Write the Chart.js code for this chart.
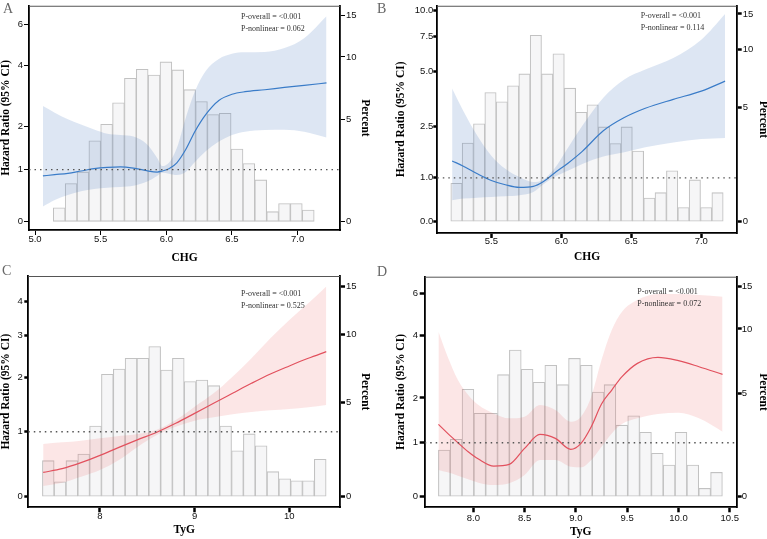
<!DOCTYPE html>
<html>
<head>
<meta charset="utf-8">
<script src="https://cdn.jsdelivr.net/npm/chart.js@4.4.1/dist/chart.umd.min.js"></script>
<style>
  html, body { margin: 0; padding: 0; background: #fff; }
  body { width: 767px; height: 539px; position: relative; overflow: hidden; }
  canvas { position: absolute; }
</style>
</head>
<body>
<canvas id="panel-a" width="376" height="268" style="left:0;top:0"></canvas>
<canvas id="panel-b" width="391" height="268" style="left:376px;top:0"></canvas>
<canvas id="panel-c" width="376" height="281" style="left:0;top:258px"></canvas>
<canvas id="panel-d" width="391" height="281" style="left:376px;top:258px"></canvas>
<script>
// ---- Panel A: CHG (first model) ----
const binsA = [5.184, 5.275, 5.365, 5.455, 5.545, 5.636, 5.726, 5.816, 5.907, 5.997, 6.087,
               6.178, 6.268, 6.358, 6.448, 6.539, 6.629, 6.719, 6.810, 6.900, 6.990, 7.081];
const pctA = [0.60, 1.66, 2.19, 3.76, 4.71, 6.12, 8.02, 8.81, 8.30, 9.51, 8.75,
              7.09, 6.21, 5.32, 5.40, 3.32, 2.59, 1.82, 0.43, 0.78, 0.78, 0.50];
const xA = [5.06, 5.15, 5.25, 5.35, 5.45, 5.55, 5.65, 5.75, 5.85, 5.93, 5.97, 6.02,
            6.08, 6.15, 6.22, 6.30, 6.40, 6.50, 6.60, 6.75, 6.90, 7.05, 7.22];
const hrA = [0.871, 0.897, 0.924, 0.971, 1.018, 1.045, 1.058, 1.031, 0.977, 0.950, 0.971, 1.018,
             1.141, 1.443, 1.875, 2.311, 2.729, 2.928, 3.014, 3.080, 3.158, 3.227, 3.319];
const upperA = [2.559, 2.367, 2.184, 2.044, 1.916, 1.809, 1.777, 1.736, 1.557, 1.247, 1.072, 1.141,
                1.466, 2.248, 3.047, 3.761, 4.261, 4.494, 4.554, 4.569, 4.752, 5.239, 6.489];
const lowerA = [0.285, 0.407, 0.500, 0.569, 0.613, 0.638, 0.651, 0.676, 0.754, 0.871, 0.937, 0.917,
                0.891, 0.957, 1.162, 1.391, 1.618, 1.777, 1.858, 1.899, 1.908, 1.858, 1.712];
const xTicksA = [5.0, 5.5, 6.0, 6.5, 7.0];
const hrTicksA = [0, 1, 2, 4, 6];
const notesA = ['P-overall = <0.001', 'P-nonlinear = 0.062'];

// ---- Panel B: CHG (second model) ----
const binsB = [5.251, 5.332, 5.413, 5.494, 5.575, 5.656, 5.737, 5.818, 5.899, 5.981, 6.062, 6.143,
               6.224, 6.305, 6.386, 6.467, 6.548, 6.629, 6.710, 6.792, 6.873, 6.954, 7.035, 7.116];
const pctB = [1.35, 3.03, 4.02, 6.04, 5.38, 6.55, 7.56, 11.81, 7.56, 9.56, 6.37, 4.70,
              5.18, 3.85, 3.01, 3.85, 2.66, 0.82, 1.01, 1.83, 0.49, 1.48, 0.49, 1.01];
const xB = [5.22, 5.30, 5.40, 5.50, 5.60, 5.70, 5.80, 5.87, 5.95, 6.05, 6.15, 6.30, 6.45, 6.60, 6.80, 7.00, 7.17];
const hrB = [1.434, 1.294, 1.100, 0.937, 0.834, 0.772, 0.795, 0.905, 1.116, 1.381, 1.701, 2.339, 2.811, 3.177, 3.560, 3.945, 4.450];
const upperB = [4.074, 3.069, 2.175, 1.579, 1.225, 1.018, 0.897, 0.953, 1.225, 1.817, 2.510, 3.634, 4.539, 5.106, 5.844, 7.200, 9.630];
const lowerB = [0.475, 0.513, 0.535, 0.550, 0.565, 0.588, 0.664, 0.842, 1.018, 1.183, 1.355, 1.552, 1.673, 1.817, 1.967, 2.070, 2.101];
const xTicksB = [5.5, 6.0, 6.5, 7.0];
const hrTicksB = [0, 1, 2.5, 5, 7.5, 10];
const notesB = ['P-overall = <0.001', 'P-nonlinear = 0.114'];

// ---- Panel C: TyG (first model) ----
const binsC = [7.454, 7.578, 7.703, 7.828, 7.953, 8.078, 8.203, 8.328, 8.453, 8.578, 8.703, 8.827,
               8.952, 9.077, 9.202, 9.327, 9.452, 9.577, 9.702, 9.827, 9.952, 10.076, 10.201, 10.326];
const pctC = [1.78, 0.73, 1.78, 2.12, 3.61, 6.83, 7.21, 8.01, 8.01, 8.94, 7.14, 8.01,
              6.33, 6.44, 6.06, 3.61, 2.29, 3.18, 2.55, 1.23, 0.88, 0.78, 0.78, 1.85];
const xC = [7.4, 7.6, 7.8, 8.0, 8.2, 8.4, 8.6, 8.8, 9.0, 9.2, 9.4, 9.6, 9.8, 10.0, 10.2, 10.39];
const hrC = [0.362, 0.418, 0.509, 0.622, 0.747, 0.870, 0.992, 1.141, 1.314, 1.496, 1.685, 1.883, 2.078, 2.253, 2.427, 2.586];
const upperC = [0.800, 0.827, 0.854, 0.891, 0.929, 0.962, 1.034, 1.198, 1.434, 1.685, 2.021, 2.427, 2.922, 3.431, 3.949, 4.527];
const lowerC = [0.158, 0.208, 0.297, 0.398, 0.550, 0.758, 0.946, 1.084, 1.186, 1.244, 1.297, 1.338, 1.368, 1.392, 1.422, 1.465];
const xTicksC = [8, 9, 10];
const hrTicksC = [0, 1, 2, 3, 4];
const notesC = ['P-overall = <0.001', 'P-nonlinear = 0.525'];

// ---- Panel D: TyG (second model) ----
const binsD = [7.717, 7.832, 7.948, 8.063, 8.178, 8.294, 8.409, 8.525, 8.640, 8.755, 8.871, 8.986,
               9.102, 9.217, 9.332, 9.448, 9.563, 9.679, 9.794, 9.909, 10.025, 10.140, 10.256, 10.371];
const pctD = [2.02, 2.52, 5.24, 3.84, 3.84, 6.21, 8.09, 6.59, 5.69, 6.88, 5.54, 7.41,
              6.88, 5.07, 5.54, 3.22, 3.71, 2.86, 1.87, 1.35, 2.86, 1.35, 0.35, 1.03];
const xD = [7.66, 7.75, 7.85, 7.95, 8.05, 8.2, 8.35, 8.5, 8.65, 8.8, 8.95, 9.05, 9.15, 9.25, 9.35, 9.45, 9.6, 9.8, 10.0, 10.2, 10.43];
const hrD = [1.383, 1.192, 1.002, 0.825, 0.685, 0.554, 0.585, 0.890, 1.171, 1.089, 0.871, 0.989,
             1.333, 1.850, 2.206, 2.577, 2.985, 3.181, 3.071, 2.879, 2.646];
const upperD = [4.134, 3.204, 2.481, 2.075, 1.826, 1.629, 1.516, 1.553, 1.826, 1.707, 1.441, 1.553,
                2.033, 3.093, 4.203, 5.025, 5.617, 5.944, 5.944, 5.888, 5.796];
const lowerD = [0.481, 0.438, 0.377, 0.311, 0.251, 0.209, 0.239, 0.389, 0.667, 0.667, 0.542, 0.530,
                0.667, 0.923, 1.192, 1.391, 1.516, 1.614, 1.645, 1.516, 1.227];
const xTicksD = [8.0, 8.5, 9.0, 9.5, 10.0, 10.5];
const hrTicksD = [0, 1, 2, 4, 6];
const notesD = ['P-overall = <0.001', 'P-nonlinear = 0.072'];

const pctTicks = [0, 5, 10, 15];

// Hazard ratio axes use a pseudo-log (asinh) scale, linear near zero
class AsinhScale extends Chart.LinearScale {
  configure() {
    super.configure();
    const c = this.options.linearWidth || 2;
    this._t0 = Math.asinh(this.min / c);
    this._t1 = Math.asinh(this.max / c);
  }
  getPixelForValue(value) {
    if (value === null || value === undefined) return NaN;
    const c = this.options.linearWidth || 2;
    return this.getPixelForDecimal((Math.asinh(value / c) - this._t0) / (this._t1 - this._t0));
  }
  getValueForPixel(pixel) {
    const c = this.options.linearWidth || 2;
    return c * Math.sinh(this._t0 + this.getDecimalForPixel(pixel) * (this._t1 - this._t0));
  }
}
AsinhScale.id = 'asinh';
AsinhScale.defaults = {};
Chart.register(AsinhScale);

const BLUE = { line: '#3a7cc8', band: 'rgba(65,115,190,0.18)' };
const RED = { line: '#e2515e', band: 'rgba(235,80,80,0.14)' };

const titleFont = { family: 'Liberation Serif', weight: 'bold', size: 11.5, lineHeight: 1 };
const tickFont = { family: 'Liberation Sans', size: 9.5, lineHeight: 1 };

function pts(xs, ys) {
  return xs.map((x, i) => ({ x: x, y: ys[i] }));
}

function drawPanel(canvasId, d, lay) {
  const k = d.pctPerHr;
  const ticks = (vals) => (s) => { s.ticks = vals.map(v => ({ value: v })); };
  const grid = (len) => ({
    display: true, drawOnChartArea: false, drawTicks: true,
    tickLength: len, tickWidth: lay.tickWidth, tickColor: '#000'
  });
  const border = { display: true, color: '#000', width: 1.8 };

  // frame top edge, p-value notes and panel letter
  const labels = {
    id: 'labels',
    afterDraw(chart) {
      const ctx = chart.ctx;
      const a = chart.chartArea;
      ctx.save();
      ctx.strokeStyle = '#555';
      ctx.lineWidth = 1;
      ctx.beginPath();
      ctx.moveTo(a.left, a.top + 0.5);
      ctx.lineTo(a.right, a.top + 0.5);
      ctx.stroke();
      ctx.fillStyle = '#333';
      ctx.font = '8px "Liberation Serif"';
      ctx.textAlign = 'left';
      ctx.textBaseline = 'middle';
      ctx.fillText(d.notes[0], lay.note[0], lay.note[1]);
      ctx.fillText(d.notes[1], lay.note[0], lay.note[2]);
      ctx.fillStyle = '#666';
      ctx.font = '14px "Liberation Serif"';
      ctx.textBaseline = 'top';
      ctx.fillText(d.letter, lay.letter[0], lay.letter[1]);
      ctx.restore();
    }
  };

  new Chart(document.getElementById(canvasId), {
    type: 'line',
    data: {
      datasets: [
        {
          type: 'bar', yAxisID: 'y1', data: pts(d.bins, d.pct),
          backgroundColor: '#f6f6f7', borderColor: '#c2c2c2', borderWidth: 1.1,
          borderSkipped: false, barThickness: 'flex', barPercentage: 1,
          categoryPercentage: 1, order: 5
        },
        {
          yAxisID: 'y', data: pts(d.xs, d.upper), borderWidth: 0, pointRadius: 0,
          fill: '+1', backgroundColor: d.colors.band, cubicInterpolationMode: 'monotone', order: 4
        },
        {
          yAxisID: 'y', data: pts(d.xs, d.lower), borderWidth: 0, pointRadius: 0,
          fill: false, cubicInterpolationMode: 'monotone', order: 3
        },
        {
          yAxisID: 'y', data: pts(d.xs, d.hr), borderColor: d.colors.line, borderWidth: 1.2,
          pointRadius: 0, fill: false, cubicInterpolationMode: 'monotone', order: 2
        },
        {
          yAxisID: 'y', data: pts(d.xRange, [1, 1]), borderColor: '#555', borderWidth: 1.4,
          borderDash: [1.5, 4], pointRadius: 0, fill: false, order: 1
        }
      ]
    },
    options: {
      responsive: false,
      animation: false,
      devicePixelRatio: 1,
      layout: { padding: { top: lay.top, left: 0, right: 0, bottom: 0 } },
      plugins: { legend: { display: false }, tooltip: { enabled: false } },
      scales: {
        x: {
          type: 'linear', min: d.xRange[0], max: d.xRange[1], offset: false,
          afterBuildTicks: ticks(d.xTicks),
          afterFit: (s) => { s.height = lay.bottom; },
          ticks: {
            autoSkip: false, maxRotation: 0, font: tickFont, color: '#111', padding: lay.xLabelPad,
            callback: (v) => v.toFixed(d.xDigits)
          },
          grid: Object.assign(grid(5), { offset: false }),
          border: border,
          title: { display: true, text: d.xTitle, font: titleFont, color: '#000',
                   padding: { top: 0, bottom: lay.xTitlePad } }
        },
        y: {
          type: 'asinh', position: 'left', linearWidth: 2,
          min: d.hrRange[0], max: d.hrRange[1],
          afterBuildTicks: ticks(d.hrTicks),
          afterFit: (s) => { s.width = lay.left; },
          ticks: {
            autoSkip: false, font: tickFont, color: '#111', padding: lay.yLabelPad,
            callback: (v) => v.toFixed(d.hrDigits)
          },
          grid: grid(lay.yTickLen),
          border: border,
          title: { display: true, text: 'Hazard Ratio (95% CI)', font: titleFont, color: '#000',
                   padding: { top: lay.yTitlePad, bottom: 0 } }
        },
        y1: {
          type: 'asinh', position: 'right', linearWidth: 2 * k,
          min: d.hrRange[0] * k, max: d.hrRange[1] * k,
          afterBuildTicks: ticks(pctTicks),
          afterFit: (s) => { s.width = lay.right; },
          ticks: {
            autoSkip: false, font: tickFont, color: '#111', padding: lay.rLabelPad,
            callback: (v) => String(v)
          },
          grid: grid(5),
          border: border,
          title: { display: true, text: 'Percent', font: titleFont, color: '#000',
                   padding: { top: lay.rTitlePad, bottom: 0 } }
        }
      }
    },
    plugins: [labels]
  });
}

drawPanel('panel-a', {
  letter: 'A', xTitle: 'CHG', colors: BLUE, notes: notesA,
  bins: binsA, pct: pctA, xs: xA, hr: hrA, upper: upperA, lower: lowerA,
  xRange: [4.954, 7.323], xTicks: xTicksA, xDigits: 1,
  hrRange: [-0.1505, 7.18], hrTicks: hrTicksA, hrDigits: 0, pctPerHr: 2.3
}, { top: 2, left: 29, right: 36, bottom: 38, tickWidth: 1, yTickLen: 5, yLabelPad: 1, rLabelPad: 1,
     xLabelPad: 0, yTitlePad: 0, rTitlePad: 5.25, xTitlePad: 3.95, note: [241, 17.3, 29.3], letter: [3, 2] });

drawPanel('panel-b', {
  letter: 'B', xTitle: 'CHG', colors: BLUE, notes: notesB,
  bins: binsB, pct: pctB, xs: xB, hr: hrB, upper: upperB, lower: lowerB,
  xRange: [5.114, 7.253], xTicks: xTicksB, xDigits: 1,
  hrRange: [-0.2462, 10.56], hrTicks: hrTicksB, hrDigits: 1, pctPerHr: 1.557
}, { top: 4, left: 61.3, right: 30.3, bottom: 35, tickWidth: 2.5, yTickLen: 4, yLabelPad: 0, rLabelPad: 1,
     xLabelPad: -1.3, yTitlePad: 19.75, rTitlePad: -2, xTitlePad: 5.55, note: [264.7, 16, 28.3], letter: [1, 2] });

drawPanel('panel-c', {
  letter: 'C', xTitle: 'TyG', colors: RED, notes: notesC,
  bins: binsC, pct: pctC, xs: xC, hr: hrC, upper: upperC, lower: lowerC,
  xRange: [7.243, 10.535], xTicks: xTicksC, xDigits: 0,
  hrRange: [-0.1572, 4.929], hrTicks: hrTicksC, hrDigits: 0, pctPerHr: 3.3
}, { top: 18, left: 28.3, right: 36, bottom: 31.7, tickWidth: 2.5, yTickLen: 4, yLabelPad: 1.5, rLabelPad: 1,
     xLabelPad: -0.6, yTitlePad: 0, rTitlePad: 5.25, xTitlePad: 3.25, note: [241, 36.3, 47.7], letter: [2, 6] });

drawPanel('panel-d', {
  letter: 'D', xTitle: 'TyG', colors: RED, notes: notesD,
  bins: binsD, pct: pctD, xs: xD, hr: hrD, upper: upperD, lower: lowerD,
  xRange: [7.526, 10.568], xTicks: xTicksD, xDigits: 1,
  hrRange: [-0.1895, 6.99], hrTicks: hrTicksD, hrDigits: 0, pctPerHr: 2.355
}, { top: 18.7, left: 48.7, right: 30.3, bottom: 31.7, tickWidth: 2.5, yTickLen: 5, yLabelPad: 1.7, rLabelPad: 0,
     xLabelPad: 1, yTitlePad: 19.75, rTitlePad: -1.25, xTitlePad: 1.55, note: [261.3, 34.3, 46], letter: [1, 7] });
</script>
</body>
</html>
